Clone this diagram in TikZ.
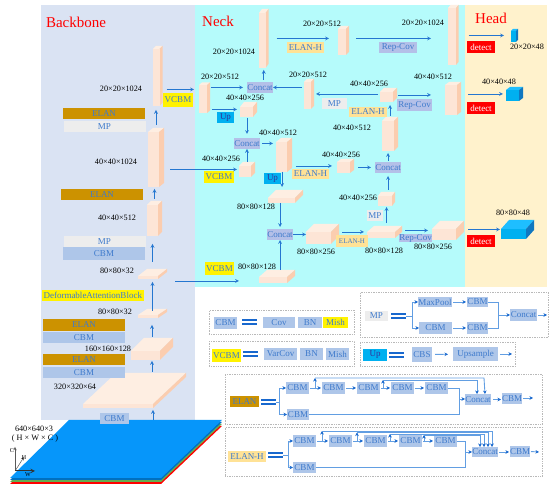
\documentclass[tikz,border=0pt]{standalone}
\usepackage{fontspec}
\setmainfont{Liberation Serif}
\usetikzlibrary{arrows.meta, positioning}
\definecolor{panelback}{RGB}{218, 227, 243}
\definecolor{panelneck}{RGB}{181, 251, 251}
\definecolor{panelhead}{RGB}{255, 242, 204}
\definecolor{peachfront}{RGB}{253, 229, 214}
\definecolor{peachtop}{RGB}{254, 238, 226}
\definecolor{peachside}{RGB}{251, 205, 175}
\definecolor{skyfront}{RGB}{0, 176, 240}
\definecolor{skytop}{RGB}{30, 190, 255}
\definecolor{skyside}{RGB}{16, 120, 192}
\definecolor{cbmblue}{RGB}{174, 198, 233}
\definecolor{conblue}{RGB}{180, 192, 232}
\definecolor{textblue}{RGB}{62, 122, 204}
\definecolor{linkblue}{RGB}{36, 118, 208}
\definecolor{legblue}{RGB}{98, 158, 226}
\definecolor{elanbrown}{RGB}{204, 146, 0}
\definecolor{elanhyellow}{RGB}{255, 226, 150}
\definecolor{mpgrey}{RGB}{237, 237, 237}
\definecolor{eqblue}{RGB}{24, 104, 206}
\definecolor{slabtop}{RGB}{6, 150, 250}
\definecolor{slabdark}{RGB}{0, 112, 192}
\definecolor{slabgreen}{RGB}{100, 173, 80}
\newcommand{\cuboid}[8][peach]{
  \fill[#1top] (#3,#4) -- ++(#7,-#8) -- ++(#5,0) -- ++(-#7,#8) -- cycle;
  \fill[#1side] (#3+#5,#4) -- ++(#7,-#8) -- ++(0,#6) -- ++(-#7,#8) -- cycle;
  \fill[#1front] (#3,#4) rectangle ++(#5,#6);
  \node (#2) [inner sep=0pt, outer sep=0pt, minimum width={(#5+#7)*1pt}, minimum height={(#6+#8)*1pt}] at ({#3+(#5+#7)/2},{#4+(#6-#8)/2}) {};
}
\begin{document}
\begin{tikzpicture}[
      x=1pt, y=-1pt, >=stealth,
      sz/.style 2 args={minimum width=#1pt, minimum height=#2pt},
      box/.style={rectangle, anchor=north west, inner sep=0pt, outer sep=0pt, text=textblue, font=\fontsize{9}{10}\selectfont},
      cbmbox/.style={box, fill=cbmblue, sz={23}{12}},
      conbox/.style={box, fill=conblue, sz={26}{11}},
      repbox/.style={box, fill=conblue},
      elanbox/.style={box, fill=elanbrown},
      elanhbox/.style={box, fill=elanhyellow},
      mpbox/.style={box, fill=mpgrey},
      yelbox/.style={box, fill=yellow},
      upbox/.style={box, fill=skyfront, text=blue!50!black!80},
      detbox/.style={box, fill=red, text=white, sz={28}{12}},
      dim/.style={inner sep=0pt, font=\fontsize{8.2}{9}\selectfont},
      title/.style={inner sep=0pt, text=red, font=\fontsize{15}{16}\selectfont},
      framebox/.style={rectangle, anchor=north west, draw=gray!55, densely dotted, line width=0.7pt, inner sep=0pt},
      eqsign/.style={anchor=north west, inner sep=0pt, outer sep=0pt, minimum width=15pt, minimum height=6pt, path picture={
        \fill[eqblue] (path picture bounding box.north west) rectangle ([yshift=-2.2pt]path picture bounding box.north east);
        \fill[eqblue] (path picture bounding box.south west) rectangle ([yshift=2.2pt]path picture bounding box.south east);}},
      line/.style={draw, ->, linkblue, line width=0.7pt},
      legline/.style={draw, legblue, line width=0.9pt},
      legarrow/.style={legline, -{Stealth[length=3.5pt, width=3.5pt, color=eqblue]}},
      gap/.style 2 args={shorten <=#1pt, shorten >=#2pt}
    ]
      \useasboundingbox (0,0) rectangle (550,489);

      \fill[panelback] (41,5) rectangle (195,420);
      \fill[panelneck] (195,5) rectangle (465,287);
      \fill[panelhead] (465,5) rectangle (547,287);
      \node (backbone) [title] at (76,22) {Backbone};
      \node (neck) [title] at (218,21) {Neck};
      \node (head) [title] at (491,18) {Head};

      \foreach \off/\col in {6/red, 4/slabgreen, 2/slabdark, 0/slabtop}
        \fill[\col] (10,478+\off) -- (161,478+\off) -- (222,420+\off) -- (69,420+\off) -- cycle;

      \cuboid{bb1}{153}{49}{6.5}{57}{3}{3}
      \cuboid{bb2}{148}{132}{11}{55}{5}{4}
      \cuboid{bb3}{147}{205}{11}{31}{4}{4}
      \cuboid{bb4}{138}{276}{20}{3}{9}{7}
      \cuboid{bb5}{138}{315}{20}{3}{9}{6}
      \cuboid{bb6}{131}{351}{29}{9}{13}{13}
      \cuboid{bb7}{83}{404}{70}{4}{33}{31}
      \cuboid{n1}{259}{13}{6.5}{55}{3}{4}
      \cuboid{n2}{338}{29}{8}{26}{3}{3}
      \cuboid{n3}{448}{8}{8}{57}{2.5}{3}
      \cuboid{n4}{199}{85}{8}{28}{3}{2.5}
      \cuboid{n5}{304}{82}{7}{27}{3}{3}
      \cuboid{n6}{380}{92}{13}{10}{4}{4}
      \cuboid{n7}{445}{85}{12}{30}{4}{3}
      \cuboid{n8}{382}{121}{12}{30}{4}{4}
      \cuboid{n10}{378}{196}{14}{10}{3}{4}
      \cuboid{n11}{367}{232}{28}{6}{7}{6}
      \cuboid{n12}{432}{229}{24}{11}{8}{8}
      \cuboid{n13}{276}{142}{11}{30}{5}{4}
      \cuboid{n14}{239}{166}{12}{11}{4}{4}
      \cuboid{n15}{240}{107}{13}{10}{4}{5}
      \cuboid{n16}{268}{198}{27}{5}{8}{8}
      \cuboid{n17}{337}{162}{13}{11}{4}{3}
      \cuboid{n18}{306}{232}{25}{12}{8}{8}
      \cuboid{n19}{259}{277}{28}{6}{8}{7}
      \cuboid[sky]{h1}{511}{31}{5}{11}{2}{2}
      \cuboid[sky]{h2}{506}{90}{13}{11}{4}{3}
      \cuboid[sky]{h3}{501}{229}{25}{10}{8}{9}

      \node (elan1) [elanbox, sz={82}{11}] at (63,108) {ELAN};
      \node (mp1) [mpbox, sz={82}{11}] at (63.5,121) {MP};
      \node (elan2) [elanbox, sz={82}{11}] at (61,189) {ELAN};
      \node (mp2) [mpbox, sz={82}{11}] at (63.5,236) {MP};
      \node (cbm1) [cbmbox, sz={82}{13}] at (63,247) {CBM};
      \node (deform) [yelbox, sz={102.5}{11}] at (41.5,290) {DeformableAttentionBlock};
      \node (elan3) [elanbox, sz={82}{12}] at (43,319) {ELAN};
      \node (cbm2) [cbmbox, sz={82}{11}] at (43,332) {CBM};
      \node (elan4) [elanbox, sz={82}{11}] at (43,354) {ELAN};
      \node (cbm3) [cbmbox, sz={82}{11}] at (43,367) {CBM};
      \node (cbm0) [cbmbox, sz={29}{11}] at (100,413) {CBM};

      \node (vcbm1) [yelbox, sz={30}{14}] at (163,93) {VCBM};
      \node (vcbm2) [yelbox, sz={30}{12}] at (204,171) {VCBM};
      \node (vcbm3) [yelbox, sz={29}{13}] at (205,262) {VCBM};
      \node (con1) [conbox] at (247,82) {Concat};
      \node (con2) [conbox] at (234,138) {Concat};
      \node (con3) [conbox] at (375,162) {Concat};
      \node (con4) [conbox] at (267,229) {Concat};
      \node (up1) [upbox, sz={17}{11}] at (217,112) {Up};
      \node (up2) [upbox, sz={17}{11}] at (264,173) {Up};
      \node (elanh1) [elanhbox, sz={37}{11}] at (287,42) {ELAN-H};
      \node (elanh2) [elanhbox, sz={38}{10}] at (349,107) {ELAN-H};
      \node (elanh3) [elanhbox, sz={37}{10}] at (292,169) {ELAN-H};
      \node (elanh4) [elanhbox, sz={32}{12}, font=\fontsize{7}{8}\selectfont] at (336,235) {ELAN-H};
      \node (mp3) [mpbox, sz={25}{11}] at (322,98) {MP};
      \node (mp4) [mpbox, sz={16}{11}] at (367,210) {MP};
      \node (rep1) [repbox, sz={38}{11}] at (379,42) {Rep-Cov};
      \node (rep2) [repbox, sz={35}{12}] at (397,99) {Rep-Cov};
      \node (rep3) [repbox, sz={33}{8}] at (399,234) {Rep-Cov};
      \node (det1) [detbox] at (467,41) {detect};
      \node (det2) [detbox] at (467,102) {detect};
      \node (det3) [detbox] at (467,235) {detect};

      \node (lb1) [dim] at (121,89) {20×20×1024};
      \node (lb2) [dim] at (116,162) {40×40×1024};
      \node (lb3) [dim] at (117,218) {40×40×512};
      \node (lb4) [dim] at (117,271) {80×80×32};
      \node (lb5) [dim] at (115,312) {80×80×32};
      \node (lb6) [dim] at (108,349) {160×160×128};
      \node (lb7) [dim] at (75,387) {320×320×64};
      \node (lb8) [dim] at (34,429) {640×640×3};
      \node (lb9) [dim] at (35,439) {( H × W × C )};
      \node (lb10) [dim] at (234,52) {20×20×1024};
      \node (lb11) [dim] at (322,24) {20×20×512};
      \node (lb12) [dim] at (423,23) {20×20×1024};
      \node (lb13) [dim] at (220,77) {20×20×512};
      \node (lb14) [dim] at (245,98) {40×40×256};
      \node (lb15) [dim] at (308,75) {20×20×512};
      \node (lb16) [dim] at (369,84) {40×40×256};
      \node (lb17) [dim] at (352,128) {40×40×512};
      \node (lb18) [dim] at (433,77) {40×40×512};
      \node (lb19) [dim] at (278,133) {40×40×512};
      \node (lb20) [dim] at (221,159) {40×40×256};
      \node (lb21) [dim] at (341,155) {40×40×256};
      \node (lb22) [dim] at (358,198) {40×40×256};
      \node (lb23) [dim] at (256,207) {80×80×128};
      \node (lb24) [dim] at (316,252) {80×80×256};
      \node (lb25) [dim] at (257,267) {80×80×128};
      \node (lb26) [dim] at (384,251) {80×80×128};
      \node (lb27) [dim] at (433,247) {80×80×256};
      \node (lb28) [dim] at (527,47) {20×20×48};
      \node (lb29) [dim] at (499,82) {40×40×48};
      \node (lb30) [dim] at (513,213) {80×80×48};

      \coordinate (ax0) at (15,471);
      \coordinate (axc) at (15,447);
      \coordinate (axh) at (24,457);
      \coordinate (axw) at (35,471);
      \draw[->, gray!70!black, line width=0.5pt] (ax0) -- (axc);
      \draw[->, gray!70!black, line width=0.5pt] (ax0) -- (axh);
      \draw[->, black!80, line width=1pt] (ax0) -- (axw);
      \node (axclb) [inner sep=0pt, font=\fontsize{6}{7}\selectfont] at (12,451) {C};
      \node (axhlb) [inner sep=0pt, font=\fontsize{6}{7}\selectfont] at (24,458) {H};
      \node (axwlb) [inner sep=0pt, font=\fontsize{6}{7}\selectfont] at (28,475) {W};

      \coordinate (slabin) at (153,420);
      \coordinate (vin1) at (194,89.5);
      \coordinate (vin3) at (239,281);
      \draw[line, gap={0}{2}] (slabin) -- (slabin |- bb7.south);
      \draw[line, gap={1}{1}] (bb7.north -| bb6.south) -- (bb6.south);
      \draw[line, gap={1}{7}] (bb6.north) -- (bb6.north |- bb5.south);
      \draw[line, gap={-2}{3}] (bb5.north) -- (bb5.north |- bb4.south);
      \draw[line, gap={7}{8}] (bb4.north) -- (bb4.north |- bb3.south);
      \draw[line, gap={2}{2}] (bb3.north) -- (bb3.north |- bb2.south);
      \draw[line, gap={3}{4}] (bb2.north) -- (bb2.north |- bb1.south);
      \draw[line, gap={4}{0}] (bb1.east |- vin1) -- (vin1);
      \draw[line, gap={6}{2}] (bb2.east |- n14) -- (n14);
      \draw[line, gap={8}{0}] (bb4.east |- vin3) -- (vin3);

      \draw[line, gap={1}{4}] (n4.east |- con1) -- (con1);
      \draw[line, gap={2}{0}] (n5.west |- con1) -- (con1);
      \draw[line, gap={2}{2}] (n1.south |- con1.north) -- (n1.south);
      \draw[line, gap={2}{2}] (n6.west |- n5) -- (n5);
      \draw[line, gap={8}{9}] (n1.east) -- (n1.east -| n2.west);
      \draw[line, gap={7}{17}] (n1.east -| n2.east) -- (n1.east -| n3.west);
      \draw[line, gap={2}{3}] (n4.east |- n15) -- (n15);
      \draw[line, gap={1}{4}] (n15.south -| con2) -- (con2);
      \draw[line] (con2.south |- n14.north) -- (con2.south);
      \draw[line, gap={2}{3}] (con2.east) -- (con2.east -| n13.west);
      \draw[line, gap={0}{3}] ([xshift=-2pt]n13.south) -- ([xshift=-2pt]n13.south |- n16.north);
      \draw[line, gap={0}{2}] (con4.north |- n16.south) -- (con4.north);
      \draw[line] (con4.south |- n19.north) -- (con4.south);
      \draw[line] (con4.east) -- (con4.east -| n18.west);
      \draw[line, gap={3}{3}] (n18.east |- n11) -- (n11);
      \draw[line, gap={3}{4}] (n11.east |- n12) -- (n12);
      \draw[line, gap={3}{1}] (n10.south |- n11.north) -- (n10.south);
      \draw[line, gap={2}{3}] (con3.south |- n10.north) -- (con3.south);
      \draw[line, gap={4}{4}] (n17.east |- con3) -- (con3);
      \draw[line, gap={1}{2}] (con3.north) -- (con3.north |- n8.south);
      \draw[line, gap={1}{3}] (n8.north) -- (n8.north |- n6.south);
      \draw[line, gap={1}{14}] (n6.east) -- (n6.east -| n7.west);
      \draw[line, gap={4}{5}] (n13.east |- n17) -- (n17);
      \draw[line, gap={10}{7}] (n3.east |- h1) -- (h1);
      \draw[line, gap={7}{3}] (n7.east |- h2) -- (h2);
      \draw[line, gap={4}{1}] (n12.east |- h3) -- (h3);

      \node (frame1) [framebox, sz={145}{24}] at (209,310) {};
      \node (frame2) [framebox, sz={145}{25}] at (209,341) {};
      \node (frame3) [framebox, sz={188}{45}] at (360,292) {};
      \node (frame4) [framebox, sz={155}{24}] at (360,342) {};
      \node (frame5) [framebox, sz={317}{50}] at (225,374) {};
      \node (frame6) [framebox, sz={317}{49}] at (225,427) {};

      \node (lcbm) [cbmbox] at (214,317) {CBM};
      \node (eq1) [eqsign] at (242,319) {};
      \node (lcov) [cbmbox, sz={32}{11}] at (263,317) {Cov};
      \node (lbn) [cbmbox, sz={24}{11}, right=3pt of lcov] {BN};
      \node (lmish) [yelbox, sz={25}{11}, right=1pt of lbn] {Mish};

      \node (lvcbm) [yelbox, sz={29}{13}] at (212,349) {VCBM};
      \node (eq2) [eqsign] at (243,351) {};
      \node (lvar) [cbmbox, sz={33}{12}] at (264,348) {VarCov};
      \node (lbn2) [cbmbox, sz={23}{12}, right=3pt of lvar] {BN};
      \node (lmish2) [cbmbox, right=3pt of lbn2] {Mish};

      \node (lmp) [mpbox, sz={23}{10}] at (365,311) {MP};
      \node (eq3) [eqsign] at (391,313) {};
      \coordinate (mpfork) at (412,316);
      \node (lmax) [cbmbox, sz={34}{10}] at (418,297) {MaxPool};
      \node (lmc1) [cbmbox, sz={21}{10}, right=15pt of lmax] {CBM};
      \node (lmc2) [cbmbox, sz={33}{12}] at (419,322) {CBM};
      \node (lmc3) [cbmbox, sz={21}{12}, right=15pt of lmc2] {CBM};
      \node (lmcon) [cbmbox, sz={27}{12}] at (510,309) {Concat};
      \coordinate (mpjoin) at (498,315);
      \coordinate (mpout) at (547,315);
      \draw[legline] (eq3.east) -- (mpfork);
      \draw[legarrow] (mpfork) |- (lmax);
      \draw[legarrow] (mpfork) |- (lmc2);
      \draw[legarrow, gap={1}{1}] (lmax) -- (lmc1);
      \draw[legarrow, gap={1}{1}] (lmc2) -- (lmc3);
      \draw[legline] (lmc1) -| (mpjoin);
      \draw[legline] (lmc3) -| (mpjoin);
      \draw[legarrow] (mpjoin) -- (mpjoin -| lmcon.west);
      \draw[legarrow, gap={1}{0}] (lmcon.east) -- (mpout);

      \node (lup) [upbox, sz={24}{12}] at (363,349) {Up};
      \node (eq4) [eqsign] at (389,352) {};
      \node (lcbs) [cbmbox, sz={20}{15}] at (412,347) {CBS};
      \node (lups) [cbmbox, sz={45}{14}] at (453,347) {Upsample};
      \coordinate (upout) at (512,354);
      \draw[legarrow, gap={3}{5}] (lcbs) -- (lups);
      \draw[legarrow, gap={2}{0}] (lups.east) -- (upout);

      \node (lelan) [elanbox, sz={29}{11}] at (230,396) {ELAN};
      \node (eq5) [eqsign] at (261,399) {};
      \coordinate (efork) at (279,402);
      \node (e1) [cbmbox] at (286,382) {CBM};
      \node (e2) [cbmbox, right=13pt of e1] {CBM};
      \node (e3) [cbmbox, right=12pt of e2] {CBM};
      \node (e4) [cbmbox, right=11pt of e3] {CBM};
      \node (e5) [cbmbox, right=11pt of e4] {CBM};
      \node (e6) [cbmbox, sz={22}{11}] at (287,409) {CBM};
      \node (econ) [conbox, fill=cbmblue] at (465,394) {Concat};
      \node (eout) [cbmbox, sz={20}{11}] at (502,393) {CBM};
      \coordinate (ejoin) at (459,399);
      \coordinate (eend) at (533,398);
      \coordinate (etop1) at (315,378);
      \coordinate (etop2) at (383,380);
      \draw[legline] (eq5.east |- efork) -- (efork);
      \draw[legarrow] (efork) |- (e1);
      \draw[legarrow] (efork) |- (e6);
      \draw[legarrow, gap={1}{1}] (e1) -- (e2);
      \draw[legarrow, gap={1}{1}] (e2) -- (e3);
      \draw[legarrow, gap={1}{1}] (e3) -- (e4);
      \draw[legarrow, gap={1}{1}] (e4) -- (e5);
      \draw[legarrow] (etop1 |- e1) -- (etop1);
      \draw[legarrow] (etop2 |- e1) -- (etop2);
      \draw[legarrow] (etop1) -- (etop1 -| 484,0) -- ([xshift=7pt]econ.north);
      \draw[legarrow] (etop2) -- (etop2 -| 477,0) -- (477,0 |- econ.north);
      \draw[legline] (e5) -| (ejoin);
      \draw[legline] (e6) -| (ejoin);
      \draw[legarrow] (ejoin) -- (ejoin -| econ.west);
      \draw[legarrow, gap={2}{1}] (econ) -- (econ -| eout.west);
      \draw[legarrow, gap={1}{0}] (eout.east |- eend) -- (eend);

      \node (lelanh) [elanhbox, sz={38}{11}] at (228,451) {ELAN-H};
      \node (eq6) [eqsign] at (268,452) {};
      \coordinate (hfork) at (288,455);
      \node (h1c) [cbmbox] at (293,435) {CBM};
      \node (h2c) [cbmbox, right=13pt of h1c] {CBM};
      \node (h3c) [cbmbox, right=12pt of h2c] {CBM};
      \node (h4c) [cbmbox, right=12pt of h3c] {CBM};
      \node (h5c) [cbmbox, right=12pt of h4c] {CBM};
      \node (h6c) [cbmbox, sz={23}{11}] at (293,462) {CBM};
      \node (hcon) [conbox, fill=cbmblue, sz={26}{10}] at (472,447) {Concat};
      \node (hout) [cbmbox, sz={19}{11}] at (510,446) {CBM};
      \coordinate (hjoin) at (465,452);
      \coordinate (hend) at (539,452);
      \coordinate (htop1) at (322,431);
      \coordinate (htop2) at (357,432.5);
      \coordinate (htop3) at (390,434);
      \coordinate (htop4) at (424,435);
      \draw[legline] (eq6.east) -- (hfork |- eq6.east) -- (hfork);
      \draw[legarrow] (hfork) |- (h1c);
      \draw[legarrow] (hfork) |- (h6c);
      \draw[legarrow, gap={1}{1}] (h1c) -- (h2c);
      \draw[legarrow, gap={1}{1}] (h2c) -- (h3c);
      \draw[legarrow, gap={1}{1}] (h3c) -- (h4c);
      \draw[legarrow, gap={1}{1}] (h4c) -- (h5c);
      \draw[legarrow] (htop1 |- h1c) -- (htop1);
      \draw[legarrow] (htop2 |- h1c) -- (htop2);
      \draw[legarrow] (htop3 |- h1c) -- (htop3);
      \draw[legarrow] (htop4 |- h1c) -- (htop4);
      \foreach \topc/\xc in {htop1/492, htop2/488, htop3/484, htop4/480}
        \draw[legarrow] (\topc) -- (\topc -| \xc,0) -- (\xc,0 |- hcon.north);
      \draw[legline] (h5c) -| (hjoin);
      \draw[legline] (h6c) -| (hjoin);
      \draw[legarrow] (hjoin) -- (hcon.west);
      \draw[legarrow, gap={1}{1}] (hcon) -- (hcon -| hout.west);
      \draw[legarrow, gap={1}{0}] (hout.east) -- (hend);
    \end{tikzpicture}
\end{document}
